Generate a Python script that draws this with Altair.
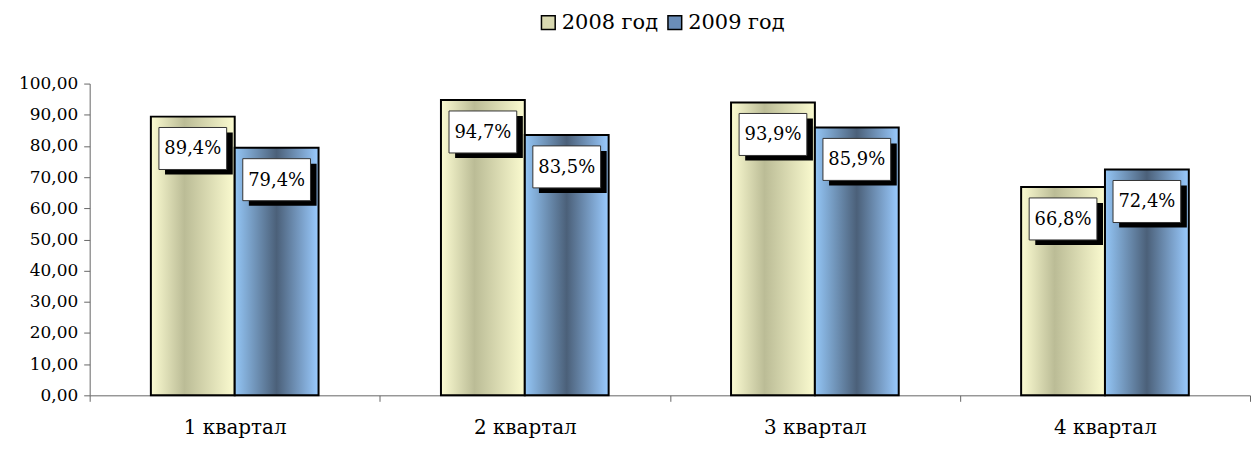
import altair as alt
import pandas as pd

quarters = ["1 квартал", "2 квартал", "3 квартал", "4 квартал"]
series = ["2008 год", "2009 год"]
v2008 = [89.4, 94.7, 93.9, 66.8]
v2009 = [79.4, 83.5, 85.9, 72.4]

rows = []
for q, a, b in zip(quarters, v2008, v2009):
    rows.append({"q": q, "s": series[0], "v": a})
    rows.append({"q": q, "s": series[1], "v": b})
df = pd.DataFrame(rows)

FONT = "DejaVu Serif"

grad08 = alt.LinearGradient(
    gradient="linear", x1=0, x2=1, y1=0, y2=0,
    stops=[alt.GradientStop(offset=0, color="#FCFCD2"),
           alt.GradientStop(offset=0.4, color="#BBBC96"),
           alt.GradientStop(offset=1, color="#FBFBD0")])
grad09 = alt.LinearGradient(
    gradient="linear", x1=0, x2=1, y1=0, y2=0,
    stops=[alt.GradientStop(offset=0, color="#94C6F6"),
           alt.GradientStop(offset=0.5, color="#4B6079"),
           alt.GradientStop(offset=1, color="#9ACBFF")])

x_enc = alt.X("q:N", sort=quarters, title=None,
              scale=alt.Scale(paddingInner=0, paddingOuter=0),
              axis=alt.Axis(labelAngle=0, tickBand="extent", labelFont=FONT,
                            labelFontSize=20, labelColor="black", labelPadding=16,
                            tickSize=6, tickColor="#666", domainColor="#666"))
xo_enc = alt.XOffset("s:N", sort=series,
                     scale=alt.Scale(paddingInner=0, paddingOuter=0.73))
y_enc = alt.Y("v:Q", title=None,
              scale=alt.Scale(domain=[0, 100]),
              axis=alt.Axis(values=list(range(0, 101, 10)), grid=False,
                            labelExpr="replace(format(datum.value, '.2f'), '.', ',')",
                            labelFont=FONT, labelFontSize=17, labelColor="black",
                            tickSize=6, tickColor="#666", domainColor="#666",
                            labelPadding=6))

base = alt.Chart(df)

bars08 = base.transform_filter(alt.datum.s == series[0]).mark_bar(
    fill=grad08, stroke="black", strokeWidth=2).encode(x=x_enc, xOffset=xo_enc, y=y_enc)
bars09 = base.transform_filter(alt.datum.s == series[1]).mark_bar(
    fill=grad09, stroke="black", strokeWidth=2).encode(x=x_enc, xOffset=xo_enc, y=y_enc)

legend_layer = base.mark_point(opacity=0, filled=True).encode(
    x=x_enc, xOffset=xo_enc, y=y_enc,
    color=alt.Color("s:N", sort=series,
                    scale=alt.Scale(domain=series, range=["#D8D8B0", "#6A8DB8"]),
                    legend=alt.Legend(title=None, orient="none", direction="horizontal",
                                      legendX=450, legendY=-72,
                                      symbolType="square", symbolSize=190,
                                      symbolOpacity=1, symbolStrokeColor="black",
                                      symbolStrokeWidth=1.5, labelFont=FONT,
                                      labelFontSize=21, labelColor="black",
                                      columnPadding=6, labelOffset=3)))

shadow = base.mark_point(
    shape="M-0.82,-0.47 L1.18,-0.47 L1.18,0.77 L-0.82,0.77 Z",
    filled=True, fill="black", opacity=1, size=68 * 68, yOffset=32).encode(
    x=x_enc, xOffset=xo_enc, y=y_enc)
box = base.mark_point(
    shape="M-1,-0.62 L1,-0.62 L1,0.62 L-1,0.62 Z",
    filled=True, fill="white", stroke="#333", strokeWidth=1, opacity=1,
    size=68 * 68, yOffset=32).encode(x=x_enc, xOffset=xo_enc, y=y_enc)
text = base.transform_calculate(
    lab="replace(format(datum.v, '.1f'), '.', ',') + '%'").mark_text(
    font=FONT, fontSize=18, color="black", baseline="middle", yOffset=33).encode(
    x=x_enc, xOffset=xo_enc, y=y_enc, text="lab:N")

chart = alt.layer(bars08, bars09, legend_layer, shadow, box, text).properties(
    width=1165, height=313,
    autosize=alt.AutoSizeParams(type="none"),
    padding={"left": 82, "top": 75, "right": 2, "bottom": 50},
).configure_view(stroke=None).configure_axis(ticks=True)

chart.save("out.html", embed_options={"renderer": "svg", "actions": False})
